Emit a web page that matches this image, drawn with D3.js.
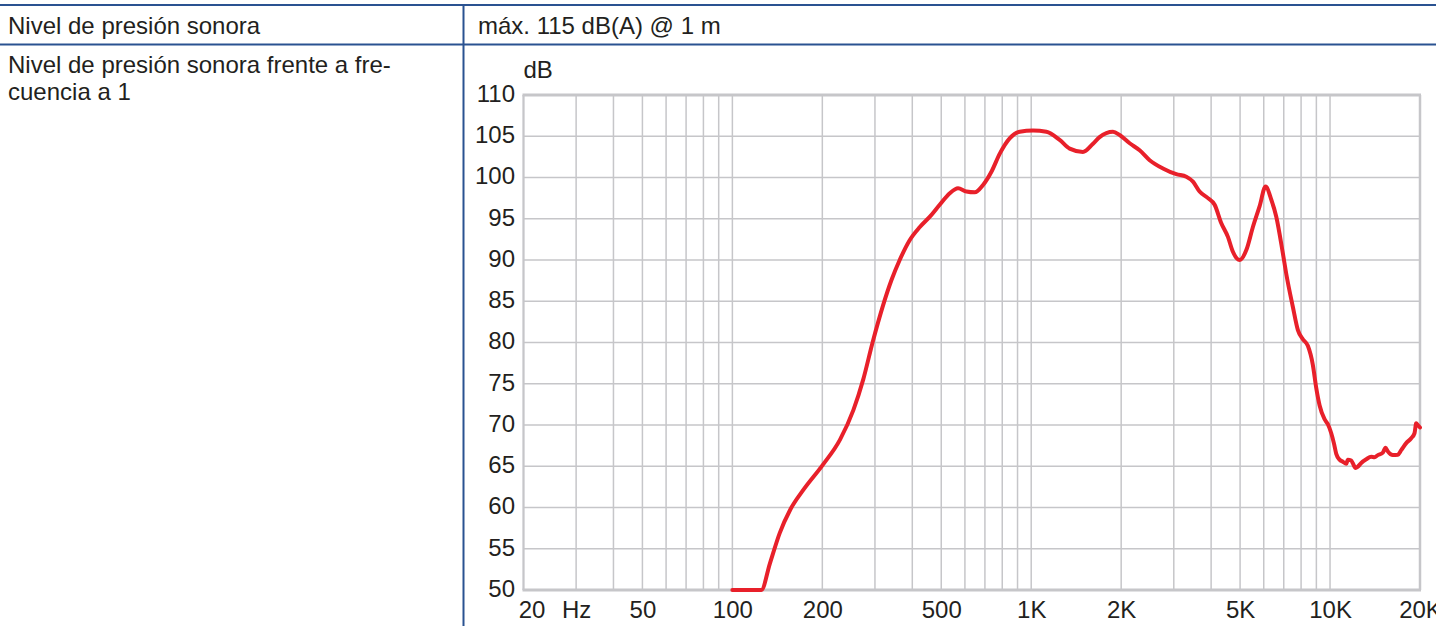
<!DOCTYPE html>
<html>
<head>
<meta charset="utf-8">
<script src="https://cdn.jsdelivr.net/npm/d3@7"></script>
<style>
    body { margin: 0; background: #fff; }
    svg { display: block; font-family: "Liberation Sans", Arial, Helvetica, sans-serif; }
</style>
</head>
<body>
<svg id="chart"></svg>
<script>
const WIDTH = 1436;
const HEIGHT = 626;

// Table texts
const rowLabels = ['Nivel de presión sonora', 'Nivel de presión sonora frente a fre-', 'cuencia a 1'];
const rowValue = 'máx. 115 dB(A) @ 1 m';

// Frequency response (Hz, dB)
const freqs = [100, 125, 133.5, 144, 156, 172.5, 201, 229, 254, 274, 295, 341, 363, 392, 424, 458,
    494, 534, 569, 607, 647, 690, 736, 785, 847, 915, 1014, 1124, 1245, 1345, 1490, 1610, 1694,
    1878, 1977, 2136, 2306, 2491, 2760, 3059, 3304, 3478, 3660, 3904, 4110, 4327, 4553, 4731,
    4982, 5246, 5519, 5810, 6086, 6360, 6608, 6953, 7138, 7510, 7806, 8110, 8428, 8758, 8990,
    9224, 9586, 9832, 10094, 10300, 10490, 10760, 11036, 11330, 11468, 11774, 11920, 12172,
    12388, 12716, 13218, 13736, 14086, 14450, 15018, 15332, 15606, 16218, 16860, 17306, 17984,
    18692, 19172, 19426, 19662, 20000];
const spl = [50, 50, 53.2, 56.9, 59.7, 62.1, 65.2, 68.2, 71.8, 75.5, 80.1, 87.6, 90, 92.4, 94, 95.25,
    96.7, 98.1, 98.7, 98.3, 98.2, 99.1, 100.7, 102.9, 104.75, 105.55, 105.7, 105.55, 104.55, 103.5,
    103.1, 104.1, 104.9, 105.55, 105.15, 104.15, 103.3, 102.1, 101.1, 100.4, 100.1, 99.5, 98.3,
    97.5, 96.7, 94.45, 92.8, 91, 90, 91.2, 94, 96.5, 98.9, 97.3, 95.25, 90.8, 88.3, 84.3, 81.5,
    80.4, 79.6, 77.3, 74.5, 72.4, 70.7, 70.1, 69, 67.8, 66.5, 65.8, 65.55, 65.3, 65.8, 65.7,
    65.35, 64.8, 64.95, 65.4, 65.85, 66.15, 66.1, 66.35, 66.65, 67.25, 66.8, 66.35, 66.4, 66.95,
    67.8, 68.4, 69, 70.2, 70, 69.7];

// Axis ticks
const xTickValues = [20, 30, 50, 100, 200, 500, 1000, 2000, 5000, 10000, 20000];
const xTickLabels = ['20', 'Hz', '50', '100', '200', '500', '1K', '2K', '5K', '10K', '20K'];
const yTickValues = [50, 55, 60, 65, 70, 75, 80, 85, 90, 95, 100, 105, 110];
const yUnit = 'dB';

const TEXT_COLOR = '#231f20';
const RULE_COLOR = '#2a5291';
const GRID_COLOR = '#c6c6c9';

function drawTable(svg) {
    // horizontal rules and the column divider
    svg.append('line')
        .attr('x1', 0).attr('x2', WIDTH).attr('y1', 5).attr('y2', 5)
        .attr('stroke', RULE_COLOR).attr('stroke-width', 2);
    svg.append('line')
        .attr('x1', 0).attr('x2', WIDTH).attr('y1', 44.5).attr('y2', 44.5)
        .attr('stroke', RULE_COLOR).attr('stroke-width', 2);
    svg.append('line')
        .attr('x1', 463.5).attr('x2', 463.5).attr('y1', 5).attr('y2', HEIGHT)
        .attr('stroke', RULE_COLOR).attr('stroke-width', 2);

    let ys = [34, 73, 100];
    svg.selectAll('.row-label')
        .data(rowLabels)
        .enter().append('text')
        .attr('class', 'row-label')
        .attr('x', 8)
        .attr('y', (d, i) => ys[i])
        .attr('font-size', 24)
        .attr('fill', TEXT_COLOR)
        .text(d => d);

    svg.append('text')
        .attr('x', 478)
        .attr('y', 34)
        .attr('font-size', 24)
        .attr('fill', TEXT_COLOR)
        .text(rowValue);
}

function drawChart(svg) {
    const left = 523.5, right = 1420, top = 95, bottom = 590;

    let x = d3.scaleLog()
        .domain([20, 20000])
        .range([left, right]);
    let y = d3.scaleLinear()
        .domain([50, 110])
        .range([bottom, top]);

    // log grid: every unit of each decade
    let gridFreqs = [];
    for (let dec = 10; dec <= 10000; dec *= 10) {
        for (let k = 1; k <= 9; k++) {
            let f = k * dec;
            if (f >= 20 && f <= 20000) gridFreqs.push(f);
        }
    }
    gridFreqs.push(20000);

    let grid = svg.append('g').attr('class', 'grid');
    grid.selectAll('.vgrid')
        .data(gridFreqs)
        .enter().append('line')
        .attr('class', 'vgrid')
        .attr('x1', d => x(d)).attr('x2', d => x(d))
        .attr('y1', top).attr('y2', bottom)
        .attr('stroke', GRID_COLOR).attr('stroke-width', 1.5);
    grid.selectAll('.hgrid')
        .data(yTickValues)
        .enter().append('line')
        .attr('class', 'hgrid')
        .attr('x1', left).attr('x2', right)
        .attr('y1', d => y(d)).attr('y2', d => y(d))
        .attr('stroke', GRID_COLOR).attr('stroke-width', 1.5);

    // frame
    grid.append('line')
        .attr('x1', left - 1).attr('x2', right + 1).attr('y1', top).attr('y2', top)
        .attr('stroke', GRID_COLOR).attr('stroke-width', 3);
    grid.append('line')
        .attr('x1', left - 1).attr('x2', right + 1).attr('y1', bottom).attr('y2', bottom)
        .attr('stroke', GRID_COLOR).attr('stroke-width', 3);
    grid.append('line')
        .attr('x1', right).attr('x2', right).attr('y1', top).attr('y2', bottom)
        .attr('stroke', GRID_COLOR).attr('stroke-width', 2.5);
    grid.append('line')
        .attr('x1', left).attr('x2', left).attr('y1', top).attr('y2', bottom)
        .attr('stroke', GRID_COLOR).attr('stroke-width', 2);

    // axes (labels only)
    let xAxis = d3.axisBottom(x)
        .tickValues(xTickValues)
        .tickFormat((d, i) => xTickLabels[i])
        .tickSize(0)
        .tickPadding(0);
    let gx = svg.append('g')
        .attr('class', 'axis')
        .attr('transform', `translate(0, 600)`)
        .call(xAxis);
    gx.select('.domain').remove();
    gx.selectAll('text')
        .attr('font-size', 24)
        .attr('font-family', null)
        .attr('fill', TEXT_COLOR)
        .attr('dy', '0.75em')
        .attr('dx', (d, i) => i === 0 ? 8 : 0);

    let yAxis = d3.axisLeft(y)
        .tickValues(yTickValues)
        .tickSize(0)
        .tickPadding(8.5);
    let gy = svg.append('g')
        .attr('class', 'axis')
        .attr('transform', `translate(${left}, 0)`)
        .call(yAxis);
    gy.select('.domain').remove();
    gy.selectAll('text')
        .attr('font-size', 24)
        .attr('font-family', null)
        .attr('fill', TEXT_COLOR)
        .attr('dy', '0.26em');

    svg.append('text')
        .attr('x', left)
        .attr('y', 78)
        .attr('font-size', 24)
        .attr('fill', TEXT_COLOR)
        .text(yUnit);

    // response curve
    let line = d3.line()
        .x((d, i) => x(freqs[i]))
        .y(d => y(d))
        .curve(d3.curveMonotoneX);

    svg.append('path')
        .datum(spl)
        .attr('d', line)
        .attr('fill', 'none')
        .attr('stroke', '#e8202a')
        .attr('stroke-width', 4)
        .attr('stroke-linejoin', 'round')
        .attr('stroke-linecap', 'round');
}

function init() {
    let svg = d3.select('#chart')
        .attr('width', WIDTH)
        .attr('height', HEIGHT);
    drawTable(svg);
    drawChart(svg);
}

init();
</script>
</body>
</html>
